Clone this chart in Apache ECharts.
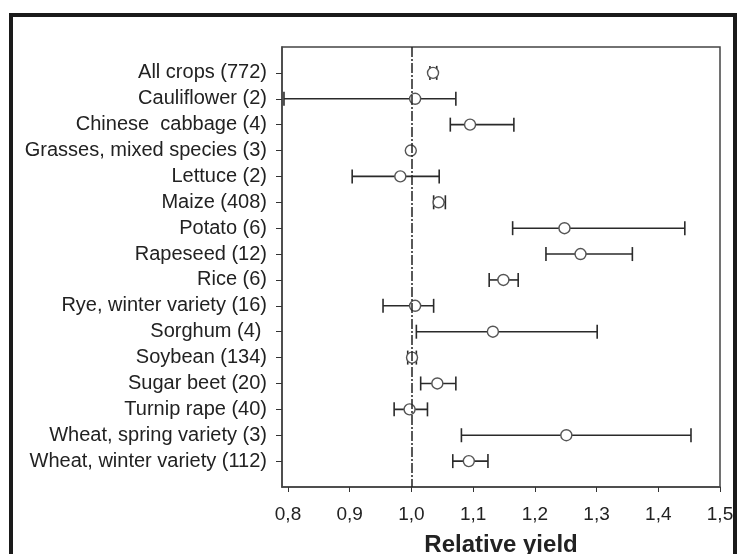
<!DOCTYPE html>
<html>
<head>
<meta charset="utf-8">
<script src="https://cdn.jsdelivr.net/npm/echarts@6/dist/echarts.min.js"></script>
<style>
  html, body { margin: 0; padding: 0; background: #fff; }
  #chart { width: 737px; height: 554px; }
</style>
</head>
<body>
<div id="chart"></div>
<script>
var crops = [
  "All crops (772)",
  "Cauliflower (2)",
  "Chinese  cabbage (4)",
  "Grasses, mixed species (3)",
  "Lettuce (2)",
  "Maize (408)",
  "Potato (6)",
  "Rapeseed (12)",
  "Rice (6)",
  "Rye, winter variety (16)",
  "Sorghum (4) ",
  "Soybean (134)",
  "Sugar beet (20)",
  "Turnip rape (40)",
  "Wheat, spring variety (3)",
  "Wheat, winter variety (112)"
];
var meanYield = [1.035, 1.006, 1.095, 0.999, 0.982, 1.044, 1.248, 1.274, 1.149, 1.006, 1.132, 1.001, 1.042, 0.997, 1.251, 1.093];
var lowerCI   = [1.030, 0.7935, 1.063, 0.999, 0.904, 1.036, 1.164, 1.218, 1.126, 0.954, 1.008, 0.994, 1.015, 0.972, 1.081, 1.067];
var upperCI   = [1.041, 1.072, 1.166, 0.999, 1.045, 1.055, 1.443, 1.358, 1.173, 1.036, 1.301, 1.008, 1.072, 1.026, 1.453, 1.124];
var xTicks = [0.8, 0.9, 1.0, 1.1, 1.2, 1.3, 1.4, 1.5];
var yTicks = crops.map(function (c, i) { return i; });

var chart = echarts.init(document.getElementById("chart"));

var errData = [];
var dotData = [];
for (var i = 0; i < crops.length; i++) {
  errData.push([i, meanYield[i], lowerCI[i], upperCI[i]]);
  dotData.push([meanYield[i], i]);
}

// horizontal error bar with end caps; skipped when there is no spread
function renderError(params, api) {
  var y = api.value(0);
  var lo = api.coord([api.value(2), y]);
  var hi = api.coord([api.value(3), y]);
  if (hi[0] - lo[0] < 1) return null;
  var h = 7;
  var st = { stroke: "#2a2a2a", lineWidth: 1.6 };
  return {
    type: "group",
    children: [
      { type: "line", shape: { x1: lo[0], y1: lo[1], x2: hi[0], y2: hi[1] }, style: st },
      { type: "line", shape: { x1: lo[0], y1: lo[1] - h, x2: lo[0], y2: lo[1] + h }, style: st },
      { type: "line", shape: { x1: hi[0], y1: hi[1] - h, x2: hi[0], y2: hi[1] + h }, style: st }
    ]
  };
}

var font = "'Liberation Sans', Arial, sans-serif";

var option = {
  animation: false,
  backgroundColor: "#fff",
  graphic: [
    {
      type: "rect",
      shape: { x: 11, y: 15, width: 724, height: 600 },
      style: { fill: "none", stroke: "#1a1a1a", lineWidth: 4 },
      silent: true
    }
  ],
  grid: {
    left: 282, top: 47, right: 17, bottom: 67,
    outerBoundsMode: "none",
    containLabel: false,
    show: true, borderColor: "#444", borderWidth: 1.5, backgroundColor: "transparent"
  },
  xAxis: {
    type: "value",
    min: 0.7903,
    max: 1.5,
    name: "Relative yield",
    nameLocation: "middle",
    nameGap: 46,
    nameTextStyle: { fontFamily: font, fontSize: 24, fontWeight: "bold", color: "#222" },
    splitLine: { show: false },
    axisLine: { show: true, onZero: false, lineStyle: { color: "#444", width: 1.5 } },
    axisTick: { show: true, length: 5, customValues: xTicks, lineStyle: { color: "#333" } },
    axisLabel: {
      customValues: xTicks,
      margin: 18,
      fontFamily: font, fontSize: 19, color: "#222",
      formatter: function (v) { return v.toFixed(1).replace(".", ","); }
    }
  },
  yAxis: {
    type: "value",
    inverse: true,
    min: -1,
    max: 16,
    splitLine: { show: false },
    axisLine: { show: true, onZero: false, lineStyle: { color: "#444", width: 1.5 } },
    axisTick: { show: true, length: 6, customValues: yTicks, lineStyle: { color: "#333" } },
    axisLabel: {
      customValues: yTicks,
      margin: 15,
      fontFamily: font, fontSize: 20, color: "#222",
      formatter: function (v) { return crops[v] || ""; }
    }
  },
  series: [
    {
      type: "custom",
      renderItem: renderError,
      encode: { x: [1, 2, 3], y: 0 },
      data: errData,
      z: 2,
      markLine: {
        silent: true,
        symbol: "none",
        label: { show: false },
        lineStyle: { color: "#222", width: 1.5, type: [10, 2, 2, 2] },
        data: [{ xAxis: 1.0 }]
      }
    },
    {
      type: "scatter",
      data: dotData,
      symbol: "circle",
      symbolSize: 11,
      itemStyle: { color: "#fff", borderColor: "#555", borderWidth: 1.4, opacity: 1 },
      z: 3
    }
  ]
};

chart.setOption(option);
</script>
</body>
</html>
